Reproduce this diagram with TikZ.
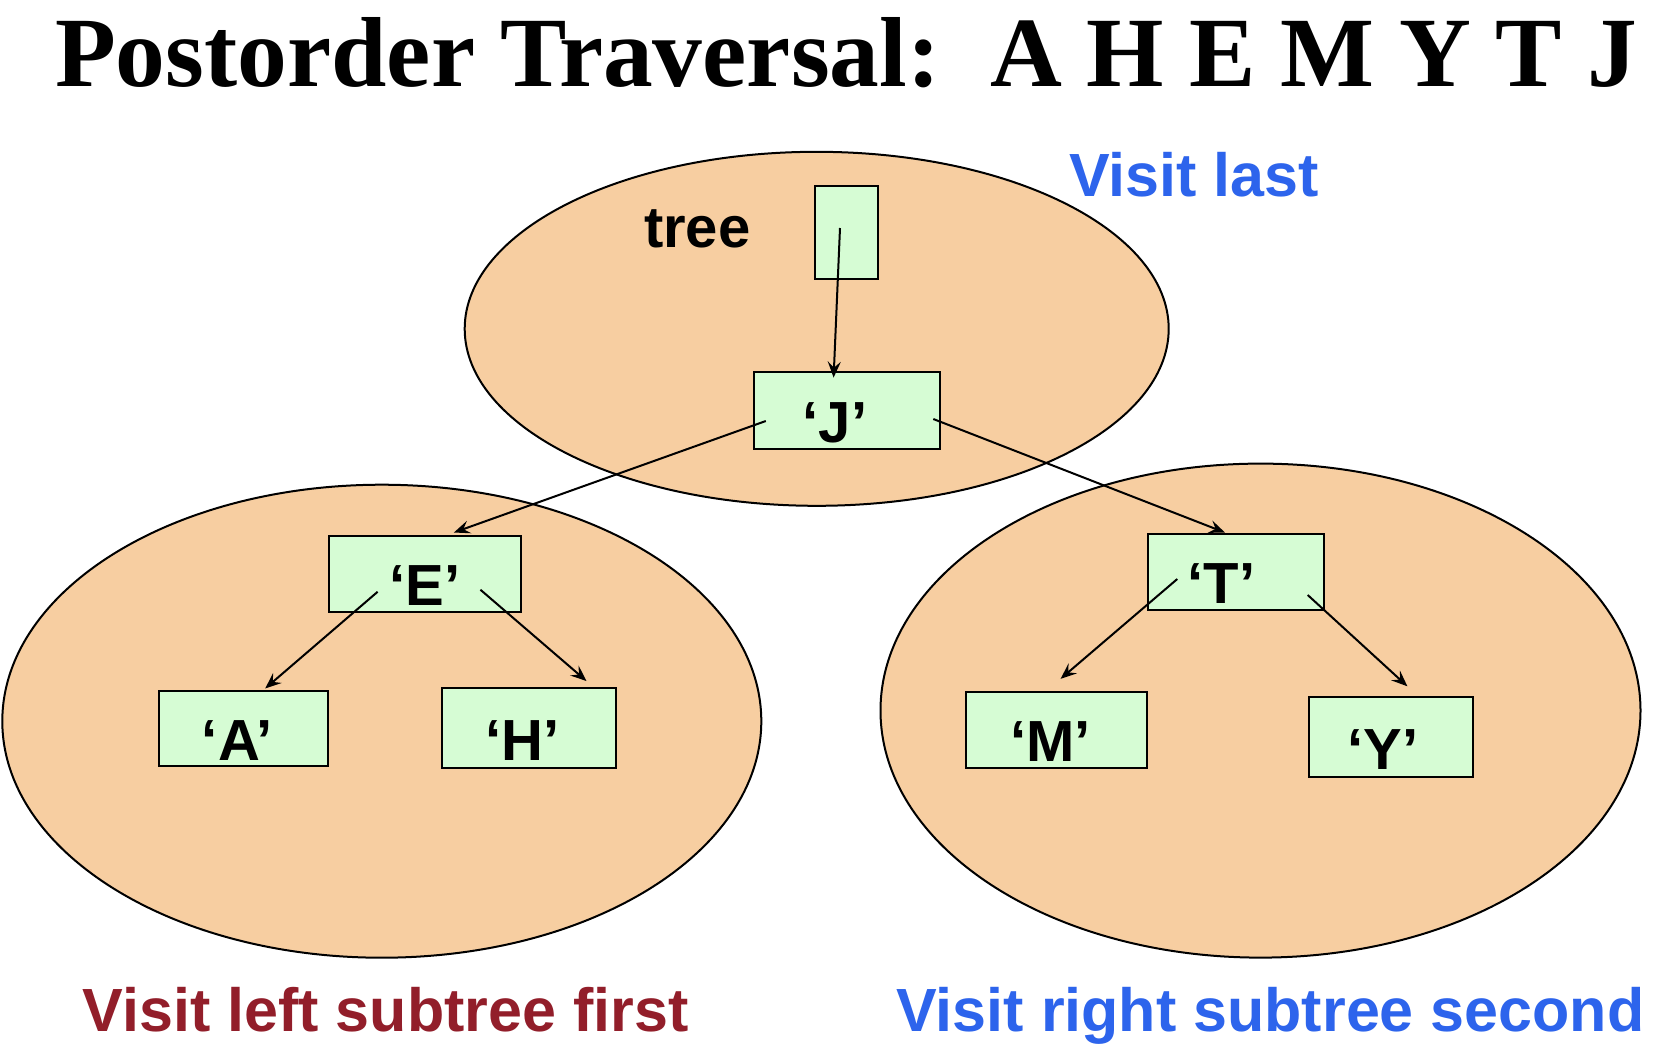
\documentclass[tikz,border=0pt]{standalone}
\usepackage{fontspec}
\setmainfont{Liberation Serif}
\setsansfont{Liberation Sans}
\usetikzlibrary{shapes.geometric,arrows.meta}
\definecolor{blobfill}{RGB}{247, 206, 161}
\definecolor{cellfill}{RGB}{214, 252, 212}
\definecolor{visitblue}{RGB}{45, 100, 236}
\definecolor{visitred}{RGB}{146, 30, 42}

\begin{document}
\begin{tikzpicture}[
  x=1pt, y=-1pt,
  blob/.style={
    ellipse, draw=black, fill=blobfill, line width=2pt, inner sep=0pt
  },
  cell/.style={
    draw=black, fill=cellfill, line width=2pt, inner sep=0pt,
    font=\sffamily\bfseries\fontsize{58}{60}\selectfont,
    text height=64pt, text depth=0pt
  },
  link/.style={-{Stealth[length=16pt, width=13pt, inset=6pt]}, line width=2pt},
  caption/.style={anchor=base west, inner sep=0pt,
    font=\sffamily\bfseries\fontsize{61}{63}\selectfont}
]
\useasboundingbox[fill=white] (0,0) rectangle (1663,1053);

%% -- TITLE --
\node[anchor=base west, inner sep=0pt, font=\rmfamily\bfseries\fontsize{99.5}{102}\selectfont]
  (title) at (55,86) {Postorder Traversal:\ \ A H E M Y T J};

%% -- SUBTREE BLOBS --
\node[blob, minimum width=704pt, minimum height=354pt] (rootblob) at (816.7,328.8) {};
\node[blob, minimum width=759pt, minimum height=473pt] (leftblob) at (381.8,721.2) {};
\node[blob, minimum width=760pt, minimum height=494pt] (rightblob) at (1260.5,710.6) {};

%% -- CELLS --
\node[cell, minimum width=63.7pt, minimum height=93.4pt] (ptr) at (846.4,232.3) {};
\node[cell, minimum width=185.7pt, minimum height=76.6pt] (J) at (846.9,410.3) {‘J’\kern24pt};
\node[cell, minimum width=192pt, minimum height=76.4pt] (E) at (424.8,573.8) {‘E’};
\node[cell, minimum width=168.7pt, minimum height=74.3pt] (A) at (243.4,728.6) {‘A’\kern12pt};
\node[cell, minimum width=173.9pt, minimum height=79.6pt] (H) at (529.3,728.1) {‘H’\kern14pt};
\node[cell, minimum width=176pt, minimum height=76.3pt] (T) at (1235.6,571.7) {‘T’\kern28pt};
\node[cell, minimum width=180.3pt, minimum height=76.4pt] (M) at (1056.4,729.7) {‘M’\kern12pt};
\node[cell, minimum width=164.4pt, minimum height=80.6pt] (Y) at (1391,737.1) {‘Y’\kern16pt};

%% -- LABELS --
\node[caption, font=\sffamily\bfseries\fontsize{58}{60}\selectfont] (treelbl) at (643.8,247) {tree};
\node[caption, text=visitblue] (lastlbl) at (1069,196.7) {Visit last};
\node[caption, text=visitred] (leftlbl) at (82.7,1031.7) {Visit left subtree first};
\node[caption, text=visitblue] (rightlbl) at (896.2,1031.7) {Visit right subtree second};

%% -- POINTERS --
\draw[link] ([shift={(-6.4,-4.3)}]ptr.center) -- ([shift={(-13.3,6.6)}]J.north);
\draw[link] ([shift={(-81.1,10.7)}]J.center) -- ([shift={(29.1,-2.1)}]E.north);
\draw[link] ([shift={(86.4,8.7)}]J.center) -- ([shift={(-10.6,0)}]T.north);
\draw[link] ([shift={(-47.2,18)}]E.center) -- ([shift={(21.8,-2)}]A.north);
\draw[link] ([shift={(55.6,15.9)}]E.center) -- ([shift={(57.2,-6.3)}]H.north);
\draw[link] ([shift={(-58.3,7.3)}]T.center) -- ([shift={(4.2,-11.7)}]M.north);
\draw[link] ([shift={(72.1,23.3)}]T.center) -- ([shift={(16.4,-9.5)}]Y.north);

\end{tikzpicture}
\end{document}
